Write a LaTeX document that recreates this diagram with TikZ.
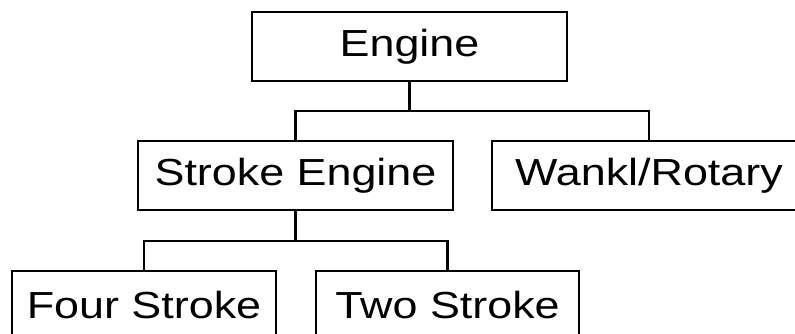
\documentclass[tikz,border=0pt]{standalone}
\usepackage{fontspec}
\setmainfont[FakeStretch=1.19]{Liberation Sans}
\begin{document}
\begin{tikzpicture}[x=1pt, y=-1pt,
  box/.style={draw, line width=2.3pt, minimum height=69pt, inner sep=0pt,
    font=\fontsize{37.7}{45}\selectfont},
  link/.style={line width=2.3pt}]
\useasboundingbox (0,0) rectangle (795,333);
\clip (0,0) rectangle (795,333);
% tree nodes
\node[box, minimum width=315pt] (eng)    at (409.5,46.5)  {Engine};
\node[box, minimum width=315pt] (stroke) at (295.5,175.5) {Stroke Engine};
\node[box, minimum width=314pt] (wankl)  at (649,175.5)   {Wankl/Rotary};
\node[box, minimum width=264pt] (four)   at (144,305.5)   {Four Stroke};
\node[box, minimum width=263pt] (two)    at (447.5,305.5) {Two Stroke};
% junction points of the elbow connectors
\coordinate (j1) at (409.5,111);
\coordinate (j2) at (295.5,241);
\draw[link] (eng.south) -- (j1);
\draw[link] (stroke.north) |- (j1) -| (wankl.north);
\draw[link] (stroke.south) -- (j2);
\draw[link] (four.north) |- (j2) -| (two.north);
\end{tikzpicture}
\end{document}
